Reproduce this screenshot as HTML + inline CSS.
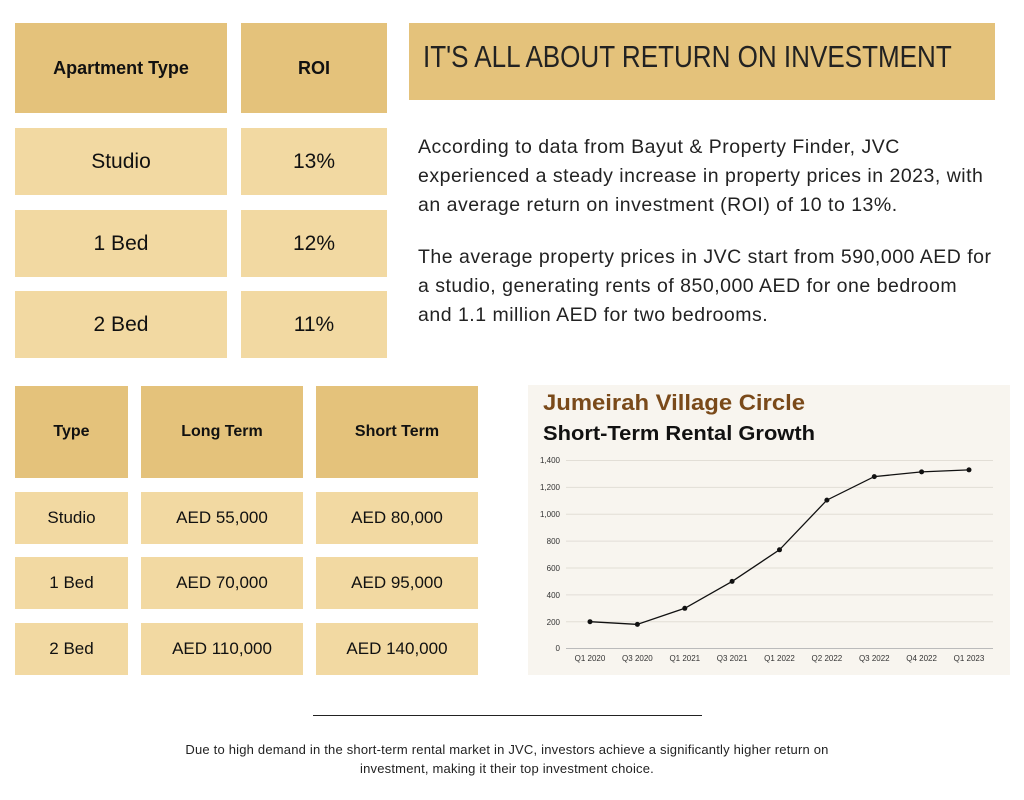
<!DOCTYPE html>
<html><head><meta charset="utf-8"><style>
body{margin:0;width:1024px;height:800px;background:#fff;position:relative;font-family:"Liberation Sans",sans-serif;overflow:hidden}
.b{position:absolute;display:flex;align-items:center;justify-content:center;color:#111;text-align:center}
.h{background:#E4C27B;font-weight:bold}
.l{background:#F2D9A2}
.t1{font-size:18px}.t2{font-size:21px}
.t3{font-size:16px}.t4{font-size:17px}
p{position:absolute;margin:0;color:#222;font-size:19.5px;letter-spacing:0.5px;line-height:29px;left:418px;width:600px;white-space:nowrap}
</style></head><body>
<div class="b h t1" style="left:15px;top:23px;width:212px;height:90px">Apartment Type</div>
<div class="b h t1" style="left:241px;top:23px;width:146px;height:90px">ROI</div>
<div class="b l t2" style="left:15px;top:128px;width:212px;height:67px">Studio</div>
<div class="b l t2" style="left:241px;top:128px;width:146px;height:67px">13%</div>
<div class="b l t2" style="left:15px;top:210px;width:212px;height:67px">1 Bed</div>
<div class="b l t2" style="left:241px;top:210px;width:146px;height:67px">12%</div>
<div class="b l t2" style="left:15px;top:291px;width:212px;height:67px">2 Bed</div>
<div class="b l t2" style="left:241px;top:291px;width:146px;height:67px">11%</div>
<div class="b h" style="left:409px;top:23px;width:586px;height:77px;justify-content:flex-start;font-weight:normal;padding-left:14px;padding-bottom:9px;box-sizing:border-box;color:#222"><span style="display:inline-block;white-space:nowrap;font-size:31px;transform:scaleX(0.84);transform-origin:left center">IT'S ALL ABOUT RETURN ON INVESTMENT</span></div>
<p style="top:133px">According to data from Bayut &amp; Property Finder, JVC<br>experienced a steady increase in property prices in 2023, with<br>an average return on investment (ROI) of 10 to 13%.</p>
<p style="top:243px">The average property prices in JVC start from 590,000 AED for<br>a studio, generating rents of 850,000 AED for one bedroom<br>and 1.1 million AED for two bedrooms.</p>
<div class="b h t3" style="left:15px;top:386px;width:113px;height:92px">Type</div>
<div class="b h t3" style="left:141px;top:386px;width:162px;height:92px">Long Term</div>
<div class="b h t3" style="left:316px;top:386px;width:162px;height:92px">Short Term</div>
<div class="b l t4" style="left:15px;top:492px;width:113px;height:52px">Studio</div>
<div class="b l t4" style="left:141px;top:492px;width:162px;height:52px">AED 55,000</div>
<div class="b l t4" style="left:316px;top:492px;width:162px;height:52px">AED 80,000</div>
<div class="b l t4" style="left:15px;top:557px;width:113px;height:52px">1 Bed</div>
<div class="b l t4" style="left:141px;top:557px;width:162px;height:52px">AED 70,000</div>
<div class="b l t4" style="left:316px;top:557px;width:162px;height:52px">AED 95,000</div>
<div class="b l t4" style="left:15px;top:623px;width:113px;height:52px">2 Bed</div>
<div class="b l t4" style="left:141px;top:623px;width:162px;height:52px">AED 110,000</div>
<div class="b l t4" style="left:316px;top:623px;width:162px;height:52px">AED 140,000</div>
<svg style="position:absolute;left:528px;top:385px" width="482" height="290" viewBox="528 385 482 290" font-family="Liberation Sans, sans-serif">
<rect x="528" y="385" width="482" height="290" fill="#f8f5ef"/>
<text x="543" y="410" font-size="22" font-weight="bold" fill="#7a4a1a" textLength="262" lengthAdjust="spacingAndGlyphs">Jumeirah Village Circle</text>
<text x="543" y="440" font-size="20" font-weight="bold" fill="#111" textLength="272" lengthAdjust="spacingAndGlyphs">Short-Term Rental Growth</text>
<g stroke="#e2ded6" stroke-width="1">
<line x1="566" x2="993" y1="460.5" y2="460.5"/><line x1="566" x2="993" y1="487.4" y2="487.4"/><line x1="566" x2="993" y1="514.3" y2="514.3"/><line x1="566" x2="993" y1="541.1" y2="541.1"/><line x1="566" x2="993" y1="568" y2="568"/><line x1="566" x2="993" y1="594.9" y2="594.9"/><line x1="566" x2="993" y1="621.7" y2="621.7"/></g>
<line x1="566" x2="993" y1="648.5" y2="648.5" stroke="#bbb"/>
<g font-size="8" fill="#333" text-anchor="end">
<text x="560" y="463">1,400</text><text x="560" y="490">1,200</text><text x="560" y="517">1,000</text><text x="560" y="544">800</text><text x="560" y="571">600</text><text x="560" y="598">400</text><text x="560" y="625">200</text><text x="560" y="651">0</text></g>
<g font-size="8" fill="#333" text-anchor="middle">
<text x="590" y="661">Q1 2020</text><text x="637.4" y="661">Q3 2020</text><text x="684.8" y="661">Q1 2021</text><text x="732.1" y="661">Q3 2021</text><text x="779.5" y="661">Q1 2022</text><text x="826.9" y="661">Q2 2022</text><text x="874.3" y="661">Q3 2022</text><text x="921.6" y="661">Q4 2022</text><text x="969" y="661">Q1 2023</text></g>
<polyline fill="none" stroke="#111" stroke-width="1.3" points="590,621.7 637.4,624.4 684.8,608.3 732.1,581.4 779.5,549.8 826.9,500.1 874.3,476.6 921.6,471.9 969,469.9"/>
<g fill="#111"><circle cx="590" cy="621.7" r="2.5"/><circle cx="637.4" cy="624.4" r="2.5"/><circle cx="684.8" cy="608.3" r="2.5"/><circle cx="732.1" cy="581.4" r="2.5"/><circle cx="779.5" cy="549.8" r="2.5"/><circle cx="826.9" cy="500.1" r="2.5"/><circle cx="874.3" cy="476.6" r="2.5"/><circle cx="921.6" cy="471.9" r="2.5"/><circle cx="969" cy="469.9" r="2.5"/></g>
</svg>
<div style="position:absolute;left:313px;top:715px;width:389px;height:1px;background:#222"></div>
<div style="position:absolute;left:60px;width:894px;top:740px;text-align:center;font-size:13px;letter-spacing:0.2px;line-height:19px;color:#222">Due to high demand in the short-term rental market in JVC, investors achieve a significantly higher return on<br>investment, making it their top investment choice.</div>
</body></html>
